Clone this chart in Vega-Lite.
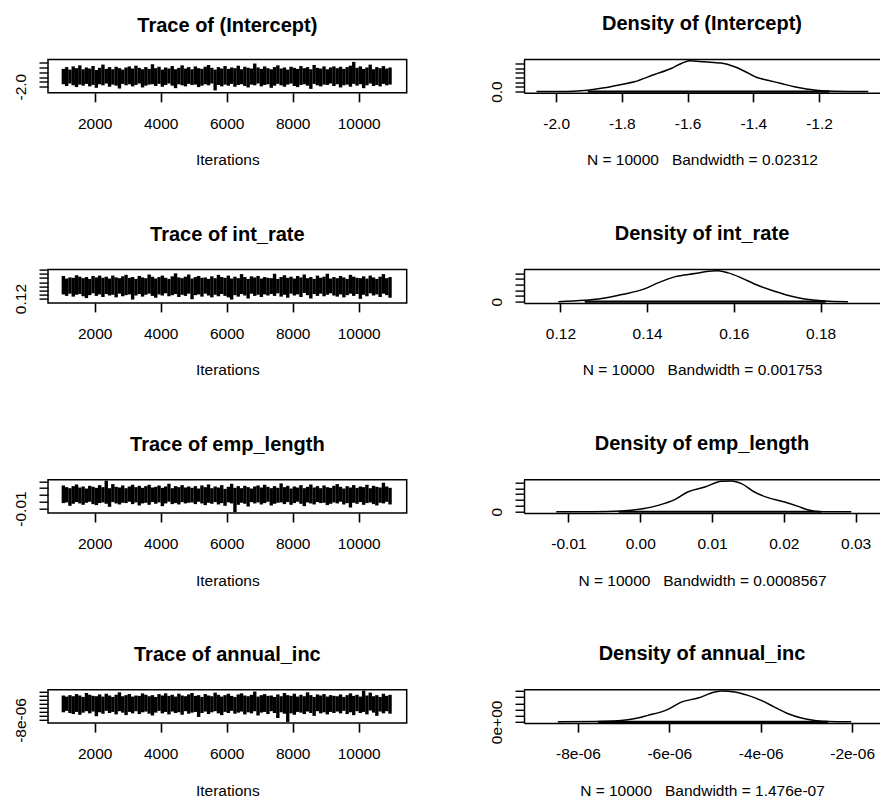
{
"$schema": "https://vega.github.io/schema/vega-lite/v6.json",
"background": "white",
"padding": {"left": 12, "top": 13.5, "right": 0, "bottom": 0},
"config": {
  "font": "Liberation Sans",
  "view": {"stroke": "black", "strokeWidth": 1.5},
  "axis": {"domain": false, "grid": false, "ticks": true, "tickColor": "black", "tickWidth": 1.4, "tickSize": 9, "labelColor": "black", "labelFont": "Liberation Sans", "labelFontSize": 15.5, "titleFont": "Liberation Sans", "titleFontSize": 15.5, "titleFontWeight": "normal", "titleColor": "black", "labelOverlap": false, "labelFlush": false},
  "axisX": {"labelBaseline": "alphabetic", "labelPadding": 26.5, "titleBaseline": "alphabetic", "tickWidth": 1.6},
  "axisY": {"labelAngle": 270, "labelAlign": "center", "labelBaseline": "alphabetic", "labelPadding": 13.5},
  "title": {"font": "Liberation Sans", "fontSize": 20, "fontWeight": "bold", "color": "black", "offset": 24, "frame": "group", "anchor": "middle"}
},
"datasets": {
"tr1": [
{"it":1050,"lo":-1.9,"hi":-1.255},{"it":1150,"lo":-1.975,"hi":-1.18},{"it":1250,"lo":-1.87,"hi":-1.285},{"it":1350,"lo":-1.945,"hi":-1.15},{"it":1450,"lo":-2.02,"hi":-1.225},{"it":1550,"lo":-1.915,"hi":-1.105},{"it":1650,"lo":-1.96,"hi":-1.27},{"it":1750,"lo":-1.885,"hi":-1.195},{"it":1850,"lo":-1.99,"hi":-1.24},{"it":1950,"lo":-1.93,"hi":-1.135},
{"it":2050,"lo":-2.05,"hi":-1.3},{"it":2150,"lo":-1.9,"hi":-1.21},{"it":2250,"lo":-1.945,"hi":-1.075},{"it":2350,"lo":-1.87,"hi":-1.255},{"it":2450,"lo":-2.005,"hi":-1.18},{"it":2550,"lo":-1.915,"hi":-1.27},{"it":2650,"lo":-1.96,"hi":-1.165},{"it":2750,"lo":-2.08,"hi":-1.225},{"it":2850,"lo":-1.885,"hi":-1.285},{"it":2950,"lo":-1.945,"hi":-1.195},
{"it":3050,"lo":-1.9,"hi":-1.15},{"it":3150,"lo":-1.99,"hi":-1.24},{"it":3250,"lo":-1.93,"hi":-1.12},{"it":3350,"lo":-1.87,"hi":-1.21},{"it":3450,"lo":-2.035,"hi":-1.27},{"it":3550,"lo":-1.96,"hi":-1.18},{"it":3650,"lo":-1.915,"hi":-1.255},{"it":3750,"lo":-1.9,"hi":-1.06},{"it":3850,"lo":-1.975,"hi":-1.225},{"it":3950,"lo":-1.885,"hi":-1.165},
{"it":4050,"lo":-2.005,"hi":-1.285},{"it":4150,"lo":-1.93,"hi":-1.195},{"it":4250,"lo":-1.87,"hi":-1.24},{"it":4350,"lo":-1.96,"hi":-1.135},{"it":4450,"lo":-2.065,"hi":-1.27},{"it":4550,"lo":-1.9,"hi":-1.21},{"it":4650,"lo":-1.945,"hi":-1.105},{"it":4750,"lo":-1.99,"hi":-1.24},{"it":4850,"lo":-1.885,"hi":-1.18},{"it":4950,"lo":-1.93,"hi":-1.27},
{"it":5050,"lo":-1.915,"hi":-1.15},{"it":5150,"lo":-2.02,"hi":-1.225},{"it":5250,"lo":-1.96,"hi":-1.255},{"it":5350,"lo":-1.9,"hi":-1.165},{"it":5450,"lo":-1.945,"hi":-1.09},{"it":5550,"lo":-1.87,"hi":-1.21},{"it":5650,"lo":-2.16,"hi":-1.285},{"it":5750,"lo":-1.93,"hi":-1.18},{"it":5850,"lo":-1.99,"hi":-1.24},{"it":5950,"lo":-1.915,"hi":-1.135},
{"it":6050,"lo":-1.96,"hi":-1.255},{"it":6150,"lo":-1.885,"hi":-1.195},{"it":6250,"lo":-2.005,"hi":-1.225},{"it":6350,"lo":-1.93,"hi":-1.12},{"it":6450,"lo":-1.9,"hi":-1.27},{"it":6550,"lo":-1.975,"hi":-1.165},{"it":6650,"lo":-2.035,"hi":-1.21},{"it":6750,"lo":-1.915,"hi":-1.24},{"it":6850,"lo":-1.945,"hi":-1.03},{"it":6950,"lo":-1.87,"hi":-1.195},
{"it":7050,"lo":-1.99,"hi":-1.255},{"it":7150,"lo":-1.93,"hi":-1.15},{"it":7250,"lo":-1.9,"hi":-1.225},{"it":7350,"lo":-2.05,"hi":-1.27},{"it":7450,"lo":-1.96,"hi":-1.18},{"it":7550,"lo":-1.885,"hi":-1.105},{"it":7650,"lo":-1.945,"hi":-1.24},{"it":7750,"lo":-2.005,"hi":-1.195},{"it":7850,"lo":-1.915,"hi":-1.285},{"it":7950,"lo":-1.87,"hi":-1.165},
{"it":8050,"lo":-1.975,"hi":-1.21},{"it":8150,"lo":-2.02,"hi":-1.255},{"it":8250,"lo":-1.93,"hi":-1.135},{"it":8350,"lo":-1.9,"hi":-1.225},{"it":8450,"lo":-1.96,"hi":-1.18},{"it":8550,"lo":-2.095,"hi":-1.27},{"it":8650,"lo":-1.885,"hi":-1.09},{"it":8750,"lo":-1.945,"hi":-1.21},{"it":8850,"lo":-1.99,"hi":-1.24},{"it":8950,"lo":-1.915,"hi":-1.15},
{"it":9050,"lo":-1.93,"hi":-1.27},{"it":9150,"lo":-1.87,"hi":-1.195},{"it":9250,"lo":-1.975,"hi":-1.15},{"it":9350,"lo":-1.9,"hi":-1.225},{"it":9450,"lo":-2.035,"hi":-1.165},{"it":9550,"lo":-1.945,"hi":-1.255},{"it":9650,"lo":-1.915,"hi":-1.18},{"it":9750,"lo":-2.005,"hi":-1.12},{"it":9850,"lo":-1.885,"hi":-0.96},{"it":9950,"lo":-1.96,"hi":-1.21},
{"it":10050,"lo":-1.9,"hi":-1.15},{"it":10150,"lo":-2.065,"hi":-1.255},{"it":10250,"lo":-1.945,"hi":-1.195},{"it":10350,"lo":-1.87,"hi":-1.075},{"it":10450,"lo":-1.975,"hi":-1.27},{"it":10550,"lo":-1.93,"hi":-1.18},{"it":10650,"lo":-1.99,"hi":-1.225},{"it":10750,"lo":-1.885,"hi":-1.135},{"it":10850,"lo":-1.945,"hi":-1.24},{"it":10950,"lo":-1.915,"hi":-1.195}
],
"tr2": [
{"it":1050,"lo":0.1302,"hi":0.1752},{"it":1150,"lo":0.1266,"hi":0.1689},{"it":1250,"lo":0.132,"hi":0.1716},{"it":1350,"lo":0.1248,"hi":0.1707},{"it":1450,"lo":0.1293,"hi":0.177},{"it":1550,"lo":0.1311,"hi":0.1734},{"it":1650,"lo":0.1257,"hi":0.1698},{"it":1750,"lo":0.1212,"hi":0.1725},{"it":1850,"lo":0.1284,"hi":0.168},{"it":1950,"lo":0.1329,"hi":0.1752},
{"it":2050,"lo":0.1266,"hi":0.1716},{"it":2150,"lo":0.1302,"hi":0.1761},{"it":2250,"lo":0.1239,"hi":0.1707},{"it":2350,"lo":0.1311,"hi":0.1734},{"it":2450,"lo":0.1275,"hi":0.1689},{"it":2550,"lo":0.1293,"hi":0.1761},{"it":2650,"lo":0.123,"hi":0.1716},{"it":2750,"lo":0.132,"hi":0.1698},{"it":2850,"lo":0.1257,"hi":0.1743},{"it":2950,"lo":0.1284,"hi":0.1779},
{"it":3050,"lo":0.1302,"hi":0.1707},{"it":3150,"lo":0.1176,"hi":0.1725},{"it":3250,"lo":0.1275,"hi":0.168},{"it":3350,"lo":0.1311,"hi":0.1752},{"it":3450,"lo":0.1248,"hi":0.1716},{"it":3550,"lo":0.1293,"hi":0.1698},{"it":3650,"lo":0.132,"hi":0.1788},{"it":3750,"lo":0.1266,"hi":0.1734},{"it":3850,"lo":0.1221,"hi":0.1689},{"it":3950,"lo":0.1302,"hi":0.1725},
{"it":4050,"lo":0.1275,"hi":0.1761},{"it":4150,"lo":0.1329,"hi":0.1707},{"it":4250,"lo":0.1257,"hi":0.168},{"it":4350,"lo":0.1284,"hi":0.1743},{"it":4450,"lo":0.1311,"hi":0.1815},{"it":4550,"lo":0.1239,"hi":0.1716},{"it":4650,"lo":0.1293,"hi":0.1698},{"it":4750,"lo":0.1266,"hi":0.1734},{"it":4850,"lo":0.132,"hi":0.1788},{"it":4950,"lo":0.1185,"hi":0.1689},
{"it":5050,"lo":0.1284,"hi":0.1725},{"it":5150,"lo":0.1302,"hi":0.1752},{"it":5250,"lo":0.1248,"hi":0.1707},{"it":5350,"lo":0.132,"hi":0.1716},{"it":5450,"lo":0.1275,"hi":0.168},{"it":5550,"lo":0.123,"hi":0.1743},{"it":5650,"lo":0.1293,"hi":0.1698},{"it":5750,"lo":0.1257,"hi":0.1779},{"it":5850,"lo":0.1311,"hi":0.1725},{"it":5950,"lo":0.1266,"hi":0.1707},
{"it":6050,"lo":0.123,"hi":0.1761},{"it":6150,"lo":0.1176,"hi":0.1689},{"it":6250,"lo":0.1284,"hi":0.1734},{"it":6350,"lo":0.1248,"hi":0.1698},{"it":6450,"lo":0.1311,"hi":0.1797},{"it":6550,"lo":0.1275,"hi":0.1725},{"it":6650,"lo":0.1203,"hi":0.168},{"it":6750,"lo":0.132,"hi":0.1743},{"it":6850,"lo":0.1266,"hi":0.1716},{"it":6950,"lo":0.1293,"hi":0.1752},
{"it":7050,"lo":0.1239,"hi":0.1689},{"it":7150,"lo":0.1302,"hi":0.1725},{"it":7250,"lo":0.1275,"hi":0.1707},{"it":7350,"lo":0.1311,"hi":0.1698},{"it":7450,"lo":0.1266,"hi":0.1806},{"it":7550,"lo":0.1329,"hi":0.168},{"it":7650,"lo":0.1248,"hi":0.1725},{"it":7750,"lo":0.1293,"hi":0.177},{"it":7850,"lo":0.1221,"hi":0.1707},{"it":7950,"lo":0.132,"hi":0.1734},
{"it":8050,"lo":0.1275,"hi":0.1689},{"it":8150,"lo":0.1302,"hi":0.1752},{"it":8250,"lo":0.1239,"hi":0.1716},{"it":8350,"lo":0.1338,"hi":0.1788},{"it":8450,"lo":0.1284,"hi":0.1698},{"it":8550,"lo":0.1203,"hi":0.1725},{"it":8650,"lo":0.1311,"hi":0.168},{"it":8750,"lo":0.1266,"hi":0.1761},{"it":8850,"lo":0.132,"hi":0.1707},{"it":8950,"lo":0.1257,"hi":0.1734},
{"it":9050,"lo":0.1293,"hi":0.1806},{"it":9150,"lo":0.1329,"hi":0.1689},{"it":9250,"lo":0.1275,"hi":0.1725},{"it":9350,"lo":0.1248,"hi":0.1698},{"it":9450,"lo":0.1302,"hi":0.1752},{"it":9550,"lo":0.123,"hi":0.1716},{"it":9650,"lo":0.1284,"hi":0.168},{"it":9750,"lo":0.132,"hi":0.1779},{"it":9850,"lo":0.1266,"hi":0.1734},{"it":9950,"lo":0.1311,"hi":0.1707},
{"it":10050,"lo":0.1194,"hi":0.1698},{"it":10150,"lo":0.1293,"hi":0.1743},{"it":10250,"lo":0.1257,"hi":0.1689},{"it":10350,"lo":0.1329,"hi":0.1761},{"it":10450,"lo":0.1275,"hi":0.1716},{"it":10550,"lo":0.1302,"hi":0.168},{"it":10650,"lo":0.1239,"hi":0.1734},{"it":10750,"lo":0.132,"hi":0.1797},{"it":10850,"lo":0.1284,"hi":0.1698},{"it":10950,"lo":0.1221,"hi":0.1725}
],
"tr3": [
{"it":1050,"lo":-0.002,"hi":0.024},{"it":1150,"lo":-0.001,"hi":0.0215},{"it":1250,"lo":-0.006,"hi":0.02},{"it":1350,"lo":-0.003,"hi":0.023},{"it":1450,"lo":-0.0005,"hi":0.0255},{"it":1550,"lo":-0.0025,"hi":0.021},{"it":1650,"lo":-0.0045,"hi":0.0225},{"it":1750,"lo":-0.0015,"hi":0.0195},{"it":1850,"lo":0,"hi":0.0235},{"it":1950,"lo":-0.0035,"hi":0.022},
{"it":2050,"lo":-0.005,"hi":0.0205},{"it":2150,"lo":-0.002,"hi":0.0245},{"it":2250,"lo":-0.001,"hi":0.0215},{"it":2350,"lo":-0.003,"hi":0.031},{"it":2450,"lo":-0.0075,"hi":0.02},{"it":2550,"lo":-0.0005,"hi":0.026},{"it":2650,"lo":-0.0025,"hi":0.022},{"it":2750,"lo":-0.004,"hi":0.021},{"it":2850,"lo":-0.0015,"hi":0.024},{"it":2950,"lo":-0.002,"hi":0.02},
{"it":3050,"lo":0,"hi":0.0225},{"it":3150,"lo":-0.0035,"hi":0.025},{"it":3250,"lo":-0.001,"hi":0.0215},{"it":3350,"lo":-0.0055,"hi":0.0235},{"it":3450,"lo":-0.0025,"hi":0.0205},{"it":3550,"lo":-0.0015,"hi":0.023},{"it":3650,"lo":-0.0045,"hi":0.025},{"it":3750,"lo":-0.0005,"hi":0.021},{"it":3850,"lo":-0.003,"hi":0.022},{"it":3950,"lo":-0.001,"hi":0.024},
{"it":4050,"lo":-0.0065,"hi":0.0205},{"it":4150,"lo":-0.0025,"hi":0.0225},{"it":4250,"lo":0,"hi":0.0265},{"it":4350,"lo":-0.0035,"hi":0.02},{"it":4450,"lo":-0.002,"hi":0.023},{"it":4550,"lo":-0.004,"hi":0.0215},{"it":4650,"lo":-0.0005,"hi":0.0245},{"it":4750,"lo":-0.0025,"hi":0.021},{"it":4850,"lo":-0.0015,"hi":0.0225},{"it":4950,"lo":-0.001,"hi":0.0205},
{"it":5050,"lo":-0.0035,"hi":0.023},{"it":5150,"lo":0,"hi":0.0195},{"it":5250,"lo":-0.0025,"hi":0.024},{"it":5350,"lo":-0.005,"hi":0.0215},{"it":5450,"lo":-0.0015,"hi":0.0255},{"it":5550,"lo":-0.003,"hi":0.02},{"it":5650,"lo":-0.0005,"hi":0.0225},{"it":5750,"lo":-0.004,"hi":0.021},{"it":5850,"lo":-0.002,"hi":0.0245},{"it":5950,"lo":-0.006,"hi":0.019},
{"it":6050,"lo":-0.001,"hi":0.022},{"it":6150,"lo":-0.0025,"hi":0.0265},{"it":6250,"lo":-0.0155,"hi":0.0205},{"it":6350,"lo":-0.0045,"hi":0.023},{"it":6450,"lo":-0.0015,"hi":0.02},{"it":6550,"lo":-0.003,"hi":0.0235},{"it":6650,"lo":-0.007,"hi":0.0215},{"it":6750,"lo":-0.0005,"hi":0.0195},{"it":6850,"lo":-0.0025,"hi":0.0225},{"it":6950,"lo":-0.001,"hi":0.024},
{"it":7050,"lo":-0.004,"hi":0.021},{"it":7150,"lo":-0.002,"hi":0.025},{"it":7250,"lo":0,"hi":0.022},{"it":7350,"lo":-0.0055,"hi":0.02},{"it":7450,"lo":-0.003,"hi":0.023},{"it":7550,"lo":-0.0015,"hi":0.0205},{"it":7650,"lo":-0.001,"hi":0.027},{"it":7750,"lo":-0.0035,"hi":0.0215},{"it":7850,"lo":-0.0005,"hi":0.0235},{"it":7950,"lo":-0.0045,"hi":0.0195},
{"it":8050,"lo":-0.002,"hi":0.0225},{"it":8150,"lo":0,"hi":0.021},{"it":8250,"lo":-0.003,"hi":0.0245},{"it":8350,"lo":-0.0065,"hi":0.02},{"it":8450,"lo":-0.001,"hi":0.022},{"it":8550,"lo":-0.0025,"hi":0.0255},{"it":8650,"lo":-0.004,"hi":0.021},{"it":8750,"lo":-0.0005,"hi":0.023},{"it":8850,"lo":-0.002,"hi":0.02},{"it":8950,"lo":-0.0015,"hi":0.024},
{"it":9050,"lo":-0.005,"hi":0.0215},{"it":9150,"lo":-0.003,"hi":0.0205},{"it":9250,"lo":-0.001,"hi":0.0235},{"it":9350,"lo":-0.0025,"hi":0.026},{"it":9450,"lo":0,"hi":0.022},{"it":9550,"lo":-0.004,"hi":0.0195},{"it":9650,"lo":-0.002,"hi":0.023},{"it":9750,"lo":-0.0085,"hi":0.021},{"it":9850,"lo":-0.0015,"hi":0.0245},{"it":9950,"lo":-0.003,"hi":0.0205},
{"it":10050,"lo":-0.0005,"hi":0.0225},{"it":10150,"lo":-0.0045,"hi":0.0215},{"it":10250,"lo":-0.002,"hi":0.025},{"it":10350,"lo":-0.001,"hi":0.02},{"it":10450,"lo":-0.0035,"hi":0.0235},{"it":10550,"lo":-0.0055,"hi":0.022},{"it":10650,"lo":-0.0015,"hi":0.021},{"it":10750,"lo":-0.0025,"hi":0.028},{"it":10850,"lo":0,"hi":0.0225},{"it":10950,"lo":-0.004,"hi":0.0205}
],
"tr4": [
{"it":1050,"lo":-6.07e-6,"hi":-1.84e-6},{"it":1150,"lo":-5.71e-6,"hi":-2.11e-6},{"it":1250,"lo":-6.25e-6,"hi":-1.75e-6},{"it":1350,"lo":-6.52e-6,"hi":-2.02e-6},{"it":1450,"lo":-5.98e-6,"hi":-1.48e-6},{"it":1550,"lo":-6.7e-6,"hi":-1.84e-6},{"it":1650,"lo":-6.16e-6,"hi":-2.2e-6},{"it":1750,"lo":-5.8e-6,"hi":-1.21e-6},{"it":1850,"lo":-6.34e-6,"hi":-1.66e-6},{"it":1950,"lo":-5.89e-6,"hi":-1.93e-6},
{"it":2050,"lo":-7.06e-6,"hi":-2.02e-6},{"it":2150,"lo":-6.07e-6,"hi":-1.57e-6},{"it":2250,"lo":-6.43e-6,"hi":-2.11e-6},{"it":2350,"lo":-5.71e-6,"hi":-1.39e-6},{"it":2450,"lo":-6.25e-6,"hi":-1.84e-6},{"it":2550,"lo":-5.98e-6,"hi":-2.2e-6},{"it":2650,"lo":-6.61e-6,"hi":-1.66e-6},{"it":2750,"lo":-5.8e-6,"hi":-1.03e-6},{"it":2850,"lo":-6.16e-6,"hi":-2.02e-6},{"it":2950,"lo":-6.79e-6,"hi":-1.75e-6},
{"it":3050,"lo":-5.98e-6,"hi":-1.48e-6},{"it":3150,"lo":-6.34e-6,"hi":-2.11e-6},{"it":3250,"lo":-5.8e-6,"hi":-1.84e-6},{"it":3350,"lo":-6.52e-6,"hi":-1.93e-6},{"it":3450,"lo":-6.07e-6,"hi":-1.3e-6},{"it":3550,"lo":-5.89e-6,"hi":-1.66e-6},{"it":3650,"lo":-6.43e-6,"hi":-2.02e-6},{"it":3750,"lo":-6.88e-6,"hi":-1.75e-6},{"it":3850,"lo":-6.16e-6,"hi":-2.2e-6},{"it":3950,"lo":-5.71e-6,"hi":-1.48e-6},
{"it":4050,"lo":-6.34e-6,"hi":-1.84e-6},{"it":4150,"lo":-5.98e-6,"hi":-1.3e-6},{"it":4250,"lo":-6.61e-6,"hi":-1.93e-6},{"it":4350,"lo":-5.89e-6,"hi":-1.66e-6},{"it":4450,"lo":-6.25e-6,"hi":-2.11e-6},{"it":4550,"lo":-6.07e-6,"hi":-1.39e-6},{"it":4650,"lo":-6.7e-6,"hi":-1.84e-6},{"it":4750,"lo":-5.8e-6,"hi":-2.02e-6},{"it":4850,"lo":-6.43e-6,"hi":-1.57e-6},{"it":4950,"lo":-6.16e-6,"hi":-1.21e-6},
{"it":5050,"lo":-5.98e-6,"hi":-1.93e-6},{"it":5150,"lo":-7.24e-6,"hi":-1.75e-6},{"it":5250,"lo":-6.25e-6,"hi":-2.2e-6},{"it":5350,"lo":-5.89e-6,"hi":-1.48e-6},{"it":5450,"lo":-6.52e-6,"hi":-1.84e-6},{"it":5550,"lo":-6.07e-6,"hi":-2.02e-6},{"it":5650,"lo":-5.8e-6,"hi":-1.12e-6},{"it":5750,"lo":-6.34e-6,"hi":-1.66e-6},{"it":5850,"lo":-6.79e-6,"hi":-2.11e-6},{"it":5950,"lo":-5.98e-6,"hi":-1.75e-6},
{"it":6050,"lo":-6.25e-6,"hi":-1.39e-6},{"it":6150,"lo":-5.71e-6,"hi":-1.93e-6},{"it":6250,"lo":-6.43e-6,"hi":-2.2e-6},{"it":6350,"lo":-6.16e-6,"hi":-1.57e-6},{"it":6450,"lo":-5.89e-6,"hi":-1.3e-6},{"it":6550,"lo":-6.61e-6,"hi":-1.84e-6},{"it":6650,"lo":-6.07e-6,"hi":-2.02e-6},{"it":6750,"lo":-6.34e-6,"hi":-1.66e-6},{"it":6850,"lo":-5.8e-6,"hi":-0.85e-6},{"it":6950,"lo":-6.88e-6,"hi":-2.11e-6},
{"it":7050,"lo":-6.16e-6,"hi":-1.75e-6},{"it":7150,"lo":-5.98e-6,"hi":-1.48e-6},{"it":7250,"lo":-6.52e-6,"hi":-1.93e-6},{"it":7350,"lo":-5.8e-6,"hi":-1.84e-6},{"it":7450,"lo":-6.25e-6,"hi":-2.2e-6},{"it":7550,"lo":-7.51e-6,"hi":-1.57e-6},{"it":7650,"lo":-6.07e-6,"hi":-2.02e-6},{"it":7750,"lo":-6.43e-6,"hi":-1.21e-6},{"it":7850,"lo":-8.5e-6,"hi":-1.75e-6},{"it":7950,"lo":-6.34e-6,"hi":-1.93e-6},
{"it":8050,"lo":-6.7e-6,"hi":-1.39e-6},{"it":8150,"lo":-5.98e-6,"hi":-2.11e-6},{"it":8250,"lo":-6.16e-6,"hi":-1.66e-6},{"it":8350,"lo":-6.52e-6,"hi":-2.02e-6},{"it":8450,"lo":-5.89e-6,"hi":-1.03e-6},{"it":8550,"lo":-6.25e-6,"hi":-1.75e-6},{"it":8650,"lo":-6.97e-6,"hi":-2.2e-6},{"it":8750,"lo":-5.8e-6,"hi":-1.57e-6},{"it":8850,"lo":-6.34e-6,"hi":-1.84e-6},{"it":8950,"lo":-6.07e-6,"hi":-1.48e-6},
{"it":9050,"lo":-6.61e-6,"hi":-2.11e-6},{"it":9150,"lo":-5.98e-6,"hi":-1.75e-6},{"it":9250,"lo":-6.25e-6,"hi":-1.93e-6},{"it":9350,"lo":-5.89e-6,"hi":-2.02e-6},{"it":9450,"lo":-6.34e-6,"hi":-1.57e-6},{"it":9550,"lo":-5.71e-6,"hi":-2.2e-6},{"it":9650,"lo":-6.52e-6,"hi":-1.75e-6},{"it":9750,"lo":-6.07e-6,"hi":-1.3e-6},{"it":9850,"lo":-6.79e-6,"hi":-1.93e-6},{"it":9950,"lo":-5.8e-6,"hi":-1.66e-6},
{"it":10050,"lo":-6.25e-6,"hi":-2.11e-6},{"it":10150,"lo":-5.98e-6,"hi":-0.6e-6},{"it":10250,"lo":-6.61e-6,"hi":-1.84e-6},{"it":10350,"lo":-5.62e-6,"hi":-1.12e-6},{"it":10450,"lo":-6.16e-6,"hi":-2.02e-6},{"it":10550,"lo":-6.97e-6,"hi":-1.75e-6},{"it":10650,"lo":-5.89e-6,"hi":-2.2e-6},{"it":10750,"lo":-6.34e-6,"hi":-1.39e-6},{"it":10850,"lo":-5.8e-6,"hi":-1.93e-6},{"it":10950,"lo":-6.43e-6,"hi":-1.66e-6}
],
"d1": [
{"x":-2.06,"d":0},{"x":-1.995,"d":0.01},{"x":-1.904,"d":0.147},{"x":-1.853,"d":0.4},{"x":-1.802,"d":0.76},{"x":-1.762,"d":1.05},{"x":-1.701,"d":1.83},{"x":-1.65,"d":2.47},{"x":-1.619,"d":3.01},{"x":-1.594,"d":3.3},{"x":-1.549,"d":3.18},{"x":-1.498,"d":3.05},{"x":-1.457,"d":2.65},{"x":-1.427,"d":2.18},{"x":-1.386,"d":1.47},{"x":-1.356,"d":1.22},{"x":-1.315,"d":0.86},{"x":-1.275,"d":0.51},{"x":-1.234,"d":0.25},{"x":-1.193,"d":0.08},{"x":-1.112,"d":0.01},{"x":-1.05,"d":0}
],
"d2": [
{"x":0.1195,"d":0},{"x":0.1256,"d":2.4},{"x":0.1295,"d":5.4},{"x":0.1341,"d":12.4},{"x":0.1394,"d":22.4},{"x":0.1425,"d":32.9},{"x":0.1463,"d":43.4},{"x":0.151,"d":49.2},{"x":0.1548,"d":53.5},{"x":0.1564,"d":54},{"x":0.1587,"d":50.4},{"x":0.1617,"d":41.7},{"x":0.1656,"d":28.2},{"x":0.1694,"d":18.2},{"x":0.1733,"d":9.4},{"x":0.1763,"d":4.8},{"x":0.1809,"d":1.3},{"x":0.1863,"d":0}
],
"d3": [
{"x":-0.0117,"d":0},{"x":-0.0068,"d":0.3},{"x":-0.0026,"d":2.4},{"x":0.0001,"d":9.2},{"x":0.0025,"d":21.8},{"x":0.0048,"d":41.2},{"x":0.0066,"d":67.2},{"x":0.009,"d":84.2},{"x":0.0113,"d":103.6},{"x":0.0127,"d":105},{"x":0.0141,"d":95.8},{"x":0.0159,"d":67.2},{"x":0.0178,"d":48.1},{"x":0.0201,"d":33.1},{"x":0.022,"d":18.4},{"x":0.0233,"d":7.2},{"x":0.0252,"d":0.3},{"x":0.0294,"d":0}
],
"d4": [
{"x":-8.44e-6,"d":0},{"x":-7.56e-6,"d":5000},{"x":-6.91e-6,"d":34000},{"x":-6.47e-6,"d":105500},{"x":-6.03e-6,"d":203000},{"x":-5.74e-6,"d":321000},{"x":-5.37e-6,"d":386000},{"x":-5.01e-6,"d":484000},{"x":-4.86e-6,"d":500000},{"x":-4.57e-6,"d":484000},{"x":-4.28e-6,"d":430000},{"x":-3.99e-6,"d":349000},{"x":-3.7e-6,"d":240000},{"x":-3.4e-6,"d":131000},{"x":-3.11e-6,"d":62000},{"x":-2.82e-6,"d":24000},{"x":-2.53e-6,"d":5000},{"x":-2.02e-6,"d":0}
],
"r1": [{"lo":-1.904,"hi":-1.168,"d":0}],
"r2": [{"lo":0.1256,"hi":0.1812,"d":0}],
"r3": [{"lo":-0.003,"hi":0.0252,"d":0}],
"r4": [{"lo":-7.56e-6,"hi":-2.53e-6,"d":0}]
},
"columns": 2,
"bounds": "flush",
"spacing": {"row": 176.1, "column": 117},
"concat": [
{
  "width": 358.7, "height": 33.3,
  "title": "Trace of (Intercept)",
  "data": {"name": "tr1"},
  "mark": {"type": "rule", "strokeWidth": 3.4, "color": "black"},
  "encoding": {
    "x": {"field": "it", "type": "quantitative", "scale": {"domain": [585, 11455], "nice": false, "zero": false}, "axis": {"values": [2000, 4000, 6000, 8000, 10000], "format": "d", "title": "Iterations", "titleY": 72}},
    "y": {"field": "lo", "type": "quantitative", "scale": {"domain": [-2.26, -0.86], "nice": false, "zero": false}, "axis": {"values": [-2.0, -1.8, -1.6, -1.4, -1.2, -1.0], "labelExpr": "datum.value < -1.9 ? '-2.0' : ''", "title": null}},
    "y2": {"field": "hi"}
  }
},
{
  "width": 356, "height": 33.3,
  "title": "Density of (Intercept)",
  "view": {"stroke": null},
  "layer": [
    {
      "data": {"name": "d1"},
      "mark": {"type": "line", "color": "black", "strokeWidth": 1.5, "interpolate": "monotone"},
      "encoding": {
        "x": {"field": "x", "type": "quantitative", "scale": {"domain": [-2.098, -1.0143], "nice": false, "zero": false}, "axis": {"domain": true, "domainColor": "black", "domainWidth": 1.5, "ticks": true, "tickSize": 9, "values": [-2.0, -1.8, -1.6, -1.4, -1.2], "labelExpr": "(datum.value < 0 ? '-' : '') + format(abs(datum.value), '.1f')", "title": "N = 10000 \u00a0 Bandwidth = 0.02312", "titleY": 72}},
        "y": {"field": "d", "type": "quantitative", "scale": {"domain": [-0.132, 3.432], "nice": false, "zero": false}, "axis": {"domain": true, "domainColor": "black", "domainWidth": 1.5, "values": [0, 0.5, 1, 1.5, 2, 2.5, 3], "labelExpr": "datum.value == 0 ? '0.0' : ''", "title": null}}
      }
    },
    {
      "data": {"name": "r1"},
      "mark": {"type": "rule", "color": "black", "strokeWidth": 2.2},
      "encoding": {
        "x": {"field": "lo", "type": "quantitative", "scale": {"domain": [-2.098, -1.0143], "nice": false, "zero": false}, "axis": {"domain": true, "domainColor": "black", "domainWidth": 1.5, "ticks": true, "tickSize": 9, "values": [-2.0, -1.8, -1.6, -1.4, -1.2], "labelExpr": "(datum.value < 0 ? '-' : '') + format(abs(datum.value), '.1f')", "title": "N = 10000 \u00a0 Bandwidth = 0.02312", "titleY": 72}},
        "x2": {"field": "hi"},
        "y": {"field": "d", "type": "quantitative", "scale": {"domain": [-0.132, 3.432], "nice": false, "zero": false}, "axis": {"domain": true, "domainColor": "black", "domainWidth": 1.5, "values": [0, 0.5, 1, 1.5, 2, 2.5, 3], "labelExpr": "datum.value == 0 ? '0.0' : ''", "title": null}}
      }
    },
    {
      "data": {"name": "r1"},
      "mark": {"type": "rule", "color": "black", "strokeWidth": 1.5},
      "encoding": {
        "y": {"datum": 3.432, "type": "quantitative", "scale": {"domain": [-0.132, 3.432], "nice": false, "zero": false}, "axis": {"domain": true, "domainColor": "black", "domainWidth": 1.5, "values": [0, 0.5, 1, 1.5, 2, 2.5, 3], "labelExpr": "datum.value == 0 ? '0.0' : ''", "title": null}}
      }
    }
  ]
},
{
  "width": 358.7, "height": 33.3,
  "title": "Trace of int_rate",
  "data": {"name": "tr2"},
  "mark": {"type": "rule", "strokeWidth": 3.4, "color": "black"},
  "encoding": {
    "x": {"field": "it", "type": "quantitative", "scale": {"domain": [585, 11455], "nice": false, "zero": false}, "axis": {"values": [2000, 4000, 6000, 8000, 10000], "format": "d", "title": "Iterations", "titleY": 72}},
    "y": {"field": "lo", "type": "quantitative", "scale": {"domain": [0.1095, 0.1907], "nice": false, "zero": false}, "axis": {"values": [0.12, 0.13, 0.14, 0.15, 0.16, 0.17, 0.18, 0.19], "labelExpr": "datum.value < 0.125 ? '0.12' : ''", "title": null}},
    "y2": {"field": "hi"}
  }
},
{
  "width": 356, "height": 33.3,
  "title": "Density of int_rate",
  "view": {"stroke": null},
  "layer": [
    {
      "data": {"name": "d2"},
      "mark": {"type": "line", "color": "black", "strokeWidth": 1.5, "interpolate": "monotone"},
      "encoding": {
        "x": {"field": "x", "type": "quantitative", "scale": {"domain": [0.1116, 0.1937], "nice": false, "zero": false}, "axis": {"domain": true, "domainColor": "black", "domainWidth": 1.5, "ticks": true, "tickSize": 9, "values": [0.12, 0.14, 0.16, 0.18], "labelExpr": "format(datum.value, '.2f')", "title": "N = 10000 \u00a0 Bandwidth = 0.001753", "titleY": 72}},
        "y": {"field": "d", "type": "quantitative", "scale": {"domain": [-2.16, 56.16], "nice": false, "zero": false}, "axis": {"domain": true, "domainColor": "black", "domainWidth": 1.5, "values": [0, 10, 20, 30, 40, 50], "labelExpr": "datum.value == 0 ? '0' : ''", "title": null}}
      }
    },
    {
      "data": {"name": "r2"},
      "mark": {"type": "rule", "color": "black", "strokeWidth": 2.2},
      "encoding": {
        "x": {"field": "lo", "type": "quantitative", "scale": {"domain": [0.1116, 0.1937], "nice": false, "zero": false}, "axis": {"domain": true, "domainColor": "black", "domainWidth": 1.5, "ticks": true, "tickSize": 9, "values": [0.12, 0.14, 0.16, 0.18], "labelExpr": "format(datum.value, '.2f')", "title": "N = 10000 \u00a0 Bandwidth = 0.001753", "titleY": 72}},
        "x2": {"field": "hi"},
        "y": {"field": "d", "type": "quantitative", "scale": {"domain": [-2.16, 56.16], "nice": false, "zero": false}, "axis": {"domain": true, "domainColor": "black", "domainWidth": 1.5, "values": [0, 10, 20, 30, 40, 50], "labelExpr": "datum.value == 0 ? '0' : ''", "title": null}}
      }
    },
    {
      "data": {"name": "r2"},
      "mark": {"type": "rule", "color": "black", "strokeWidth": 1.5},
      "encoding": {
        "y": {"datum": 56.16, "type": "quantitative", "scale": {"domain": [-2.16, 56.16], "nice": false, "zero": false}, "axis": {"domain": true, "domainColor": "black", "domainWidth": 1.5, "values": [0, 10, 20, 30, 40, 50], "labelExpr": "datum.value == 0 ? '0' : ''", "title": null}}
      }
    }
  ]
},
{
  "width": 358.7, "height": 33.3,
  "title": "Trace of emp_length",
  "data": {"name": "tr3"},
  "mark": {"type": "rule", "strokeWidth": 3.4, "color": "black"},
  "encoding": {
    "x": {"field": "it", "type": "quantitative", "scale": {"domain": [585, 11455], "nice": false, "zero": false}, "axis": {"values": [2000, 4000, 6000, 8000, 10000], "format": "d", "title": "Iterations", "titleY": 72}},
    "y": {"field": "lo", "type": "quantitative", "scale": {"domain": [-0.0166, 0.0325], "nice": false, "zero": false}, "axis": {"values": [-0.01, 0, 0.01, 0.02, 0.03], "labelExpr": "datum.value < -0.005 ? '-0.01' : ''", "title": null}},
    "y2": {"field": "hi"}
  }
},
{
  "width": 356, "height": 33.3,
  "title": "Density of emp_length",
  "view": {"stroke": null},
  "layer": [
    {
      "data": {"name": "d3"},
      "mark": {"type": "line", "color": "black", "strokeWidth": 1.5, "interpolate": "monotone"},
      "encoding": {
        "x": {"field": "x", "type": "quantitative", "scale": {"domain": [-0.0162, 0.0334], "nice": false, "zero": false}, "axis": {"domain": true, "domainColor": "black", "domainWidth": 1.5, "ticks": true, "tickSize": 9, "values": [-0.01, 0, 0.01, 0.02, 0.03], "labelExpr": "(datum.value < 0 ? '-' : '') + format(abs(datum.value), '.2f')", "title": "N = 10000 \u00a0 Bandwidth = 0.0008567", "titleY": 72}},
        "y": {"field": "d", "type": "quantitative", "scale": {"domain": [-4.2, 109.2], "nice": false, "zero": false}, "axis": {"domain": true, "domainColor": "black", "domainWidth": 1.5, "values": [0, 20, 40, 60, 80, 100], "labelExpr": "datum.value == 0 ? '0' : ''", "title": null}}
      }
    },
    {
      "data": {"name": "r3"},
      "mark": {"type": "rule", "color": "black", "strokeWidth": 2.2},
      "encoding": {
        "x": {"field": "lo", "type": "quantitative", "scale": {"domain": [-0.0162, 0.0334], "nice": false, "zero": false}, "axis": {"domain": true, "domainColor": "black", "domainWidth": 1.5, "ticks": true, "tickSize": 9, "values": [-0.01, 0, 0.01, 0.02, 0.03], "labelExpr": "(datum.value < 0 ? '-' : '') + format(abs(datum.value), '.2f')", "title": "N = 10000 \u00a0 Bandwidth = 0.0008567", "titleY": 72}},
        "x2": {"field": "hi"},
        "y": {"field": "d", "type": "quantitative", "scale": {"domain": [-4.2, 109.2], "nice": false, "zero": false}, "axis": {"domain": true, "domainColor": "black", "domainWidth": 1.5, "values": [0, 20, 40, 60, 80, 100], "labelExpr": "datum.value == 0 ? '0' : ''", "title": null}}
      }
    },
    {
      "data": {"name": "r3"},
      "mark": {"type": "rule", "color": "black", "strokeWidth": 1.5},
      "encoding": {
        "y": {"datum": 109.2, "type": "quantitative", "scale": {"domain": [-4.2, 109.2], "nice": false, "zero": false}, "axis": {"domain": true, "domainColor": "black", "domainWidth": 1.5, "values": [0, 20, 40, 60, 80, 100], "labelExpr": "datum.value == 0 ? '0' : ''", "title": null}}
      }
    }
  ]
},
{
  "width": 358.7, "height": 33.3,
  "title": "Trace of annual_inc",
  "data": {"name": "tr4"},
  "mark": {"type": "rule", "strokeWidth": 3.4, "color": "black"},
  "encoding": {
    "x": {"field": "it", "type": "quantitative", "scale": {"domain": [585, 11455], "nice": false, "zero": false}, "axis": {"values": [2000, 4000, 6000, 8000, 10000], "format": "d", "title": "Iterations", "titleY": 72}},
    "y": {"field": "lo", "type": "quantitative", "scale": {"domain": [-8.8e-6, -0.4e-6], "nice": false, "zero": false}, "axis": {"values": [-8e-6, -7e-6, -6e-6, -5e-6, -4e-6, -3e-6, -2e-6, -1e-6], "labelExpr": "datum.value < -7.5e-6 ? '-8e-06' : ''", "title": null}},
    "y2": {"field": "hi"}
  }
},
{
  "width": 356, "height": 33.3,
  "title": "Density of annual_inc",
  "view": {"stroke": null},
  "layer": [
    {
      "data": {"name": "d4"},
      "mark": {"type": "line", "color": "black", "strokeWidth": 1.5, "interpolate": "monotone"},
      "encoding": {
        "x": {"field": "x", "type": "quantitative", "scale": {"domain": [-9.18e-6, -1.39e-6], "nice": false, "zero": false}, "axis": {"domain": true, "domainColor": "black", "domainWidth": 1.5, "ticks": true, "tickSize": 9, "values": [-8e-6, -6e-6, -4e-6, -2e-6], "labelExpr": "'-' + replace(format(abs(datum.value), '.0e'), 'e-', 'e-0')", "title": "N = 10000 \u00a0 Bandwidth = 1.476e-07", "titleY": 72}},
        "y": {"field": "d", "type": "quantitative", "scale": {"domain": [-20000, 520000], "nice": false, "zero": false}, "axis": {"domain": true, "domainColor": "black", "domainWidth": 1.5, "values": [0, 100000, 200000, 300000, 400000, 500000], "labelExpr": "datum.value == 0 ? '0e+00' : ''", "title": null}}
      }
    },
    {
      "data": {"name": "r4"},
      "mark": {"type": "rule", "color": "black", "strokeWidth": 2.2},
      "encoding": {
        "x": {"field": "lo", "type": "quantitative", "scale": {"domain": [-9.18e-6, -1.39e-6], "nice": false, "zero": false}, "axis": {"domain": true, "domainColor": "black", "domainWidth": 1.5, "ticks": true, "tickSize": 9, "values": [-8e-6, -6e-6, -4e-6, -2e-6], "labelExpr": "'-' + replace(format(abs(datum.value), '.0e'), 'e-', 'e-0')", "title": "N = 10000 \u00a0 Bandwidth = 1.476e-07", "titleY": 72}},
        "x2": {"field": "hi"},
        "y": {"field": "d", "type": "quantitative", "scale": {"domain": [-20000, 520000], "nice": false, "zero": false}, "axis": {"domain": true, "domainColor": "black", "domainWidth": 1.5, "values": [0, 100000, 200000, 300000, 400000, 500000], "labelExpr": "datum.value == 0 ? '0e+00' : ''", "title": null}}
      }
    },
    {
      "data": {"name": "r4"},
      "mark": {"type": "rule", "color": "black", "strokeWidth": 1.5},
      "encoding": {
        "y": {"datum": 520000, "type": "quantitative", "scale": {"domain": [-20000, 520000], "nice": false, "zero": false}, "axis": {"domain": true, "domainColor": "black", "domainWidth": 1.5, "values": [0, 100000, 200000, 300000, 400000, 500000], "labelExpr": "datum.value == 0 ? '0e+00' : ''", "title": null}}
      }
    }
  ]
}
]
}
